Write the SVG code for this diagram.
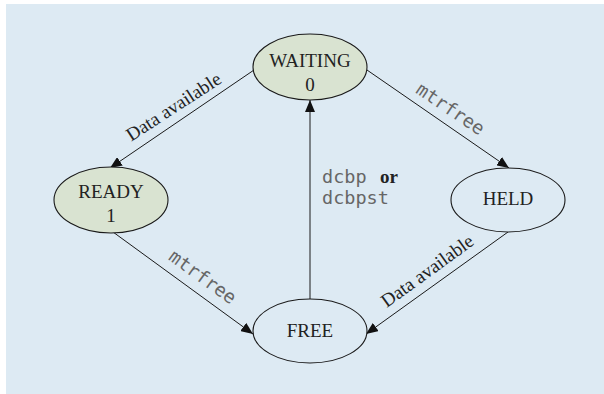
<svg xmlns="http://www.w3.org/2000/svg" width="604" height="394" viewBox="0 0 604 394">
  <defs>
    <marker id="arrow" markerUnits="userSpaceOnUse" markerWidth="12" markerHeight="10" refX="12" refY="5" orient="auto">
      <path d="M0,0 L12,5 L0,10 z" fill="#111"/>
    </marker>
    <style>
      .edge { stroke: #1a1a1a; stroke-width: 1; fill: none; marker-end: url(#arrow); }
      .node { stroke: #1a1a1a; stroke-width: 1.1; }
      .active { fill: #d9e3d1; }
      .idle { fill: #ddeaf3; }
      .ntext { font-family: "Liberation Serif", "Times New Roman", serif; font-size: 19px; fill: #222; text-anchor: middle; }
      .slabel { font-family: "Liberation Serif", "Times New Roman", serif; font-size: 19px; fill: #222; }
      .mlabel { font-family: "DejaVu Sans Mono", "Liberation Mono", monospace; font-size: 18.5px; fill: #666; }
    </style>
  </defs>
  <rect x="0" y="0" width="604" height="394" fill="#ffffff"/>
  <rect x="6" y="4" width="598" height="390" fill="#ddeaf3"/>

  <g id="connectors">
    <line class="edge" x1="254" y1="70" x2="110" y2="168"/>
    <line class="edge" x1="367" y1="70" x2="509" y2="168"/>
    <line class="edge" x1="113" y1="232" x2="253" y2="334"/>
    <line class="edge" x1="508" y1="232" x2="366" y2="334"/>
    <line class="edge" x1="310" y1="299" x2="310" y2="100"/>
    <text class="slabel" text-anchor="middle" transform="translate(177,112) rotate(-33)">Data available</text>
    <text class="mlabel" text-anchor="middle" transform="translate(447,114) rotate(34)">mtrfree</text>
    <text class="mlabel" text-anchor="middle" transform="translate(199,282) rotate(36)">mtrfree</text>
    <text class="slabel" text-anchor="middle" transform="translate(431,276) rotate(-36)">Data available</text>
    <text class="mlabel" x="322" y="183">dcbp</text>
    <text class="slabel" x="380" y="183" font-weight="bold">or</text>
    <text class="mlabel" x="322" y="204">dcbpst</text>
  </g>

  <g id="waiting">
    <ellipse class="node active" cx="310" cy="67" rx="57" ry="33"/>
    <text class="ntext" x="310" y="67">WAITING</text>
    <text class="ntext" x="310" y="91">0</text>
  </g>
  <g id="ready">
    <ellipse class="node active" cx="111" cy="200" rx="57" ry="33"/>
    <text class="ntext" x="111" y="198">READY</text>
    <text class="ntext" x="111" y="222">1</text>
  </g>
  <g id="held">
    <ellipse class="node idle" cx="508" cy="200" rx="57" ry="32"/>
    <text class="ntext" x="508" y="205">HELD</text>
  </g>
  <g id="free">
    <ellipse class="node idle" cx="310" cy="331" rx="57" ry="32"/>
    <text class="ntext" x="310" y="337">FREE</text>
  </g>
</svg>
